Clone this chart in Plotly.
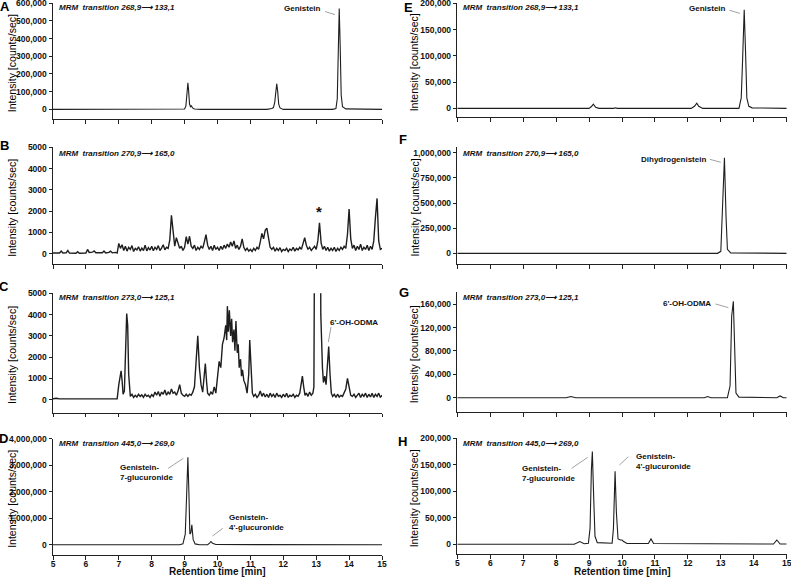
import plotly.graph_objects as go

W, H = 791, 577
FONT = "Liberation Sans, Arial, sans-serif"
LINE = "#1e1e1e"

# ---------------- data (retention time [min], intensity [counts/sec]) ----------------
a_t = [5.0, 8.9, 9.0, 9.04, 9.07, 9.1, 9.12, 9.15, 9.18, 9.21, 9.24, 9.3, 9.5,
       11.5, 11.65, 11.7, 11.74, 11.77, 11.8, 11.83, 11.86, 11.9, 12.0,
       13.5, 13.6, 13.64, 13.67, 13.7, 13.73, 13.76, 13.8, 13.9, 15.0]
a_y = [0, 0, 2000, 20000, 90000, 150000, 110000, 30000, 15000, 20000, 8000, 2000, 0,
       0, 5000, 10000, 40000, 100000, 145000, 100000, 30000, 8000, 0,
       0, 5000, 60000, 300000, 570000, 350000, 80000, 15000, 3000, 0]

b_t = [5.00, 5.20, 5.25, 5.30, 5.40, 5.45, 5.50, 5.70, 5.75, 5.80, 6.00, 6.05, 6.10, 6.20, 6.25,
       6.30, 6.50, 6.55, 6.60, 6.70, 6.75, 6.80, 6.90, 6.95,
       7.00, 7.05, 7.10, 7.15, 7.20, 7.25, 7.30, 7.35, 7.40, 7.45, 7.50, 7.55, 7.60, 7.65, 7.70,
       7.75, 7.80, 7.85, 7.90, 7.95, 8.00, 8.05, 8.10, 8.15, 8.20, 8.25, 8.30, 8.35, 8.40, 8.45,
       8.50, 8.55, 8.60, 8.65, 8.70, 8.75, 8.80, 8.85, 8.90, 8.95, 9.00, 9.05, 9.10, 9.15, 9.20,
       9.25, 9.30, 9.35, 9.40, 9.45, 9.50, 9.55, 9.60, 9.65, 9.70, 9.75, 9.80, 9.85, 9.90, 9.95,
       10.00, 10.05, 10.10, 10.15, 10.20, 10.25, 10.30, 10.35, 10.40, 10.45, 10.50, 10.55, 10.60,
       10.65, 10.70, 10.75, 10.80, 10.85, 10.90, 10.95, 11.00, 11.05, 11.10, 11.15, 11.20, 11.25,
       11.30, 11.35, 11.40, 11.45, 11.50, 11.55, 11.60, 11.65, 11.70, 11.75, 11.80, 11.85, 11.90,
       11.95, 12.00, 12.05, 12.10, 12.15, 12.20, 12.25, 12.30, 12.35, 12.40, 12.45, 12.50, 12.55,
       12.60, 12.65, 12.70, 12.75, 12.80, 12.85, 12.90, 12.95, 13.00, 13.05, 13.10, 13.15, 13.20,
       13.25, 13.30, 13.35, 13.40, 13.45, 13.50, 13.55, 13.60, 13.65, 13.70, 13.75, 13.80, 13.85,
       13.90, 13.95, 14.00, 14.05, 14.10, 14.15, 14.20, 14.25, 14.30, 14.35, 14.40, 14.45, 14.50,
       14.55, 14.60, 14.65, 14.70, 14.75, 14.80, 14.85, 14.90, 14.95, 15.00]
b_y = [30, 30, 120, 30, 40, 150, 30, 20, 90, 20, 30, 200, 60, 70, 130,
       40, 40, 120, 30, 60, 120, 40, 60, 30,
       480, 250, 420, 150, 350, 120, 300, 200, 380, 100, 250, 180, 320, 120, 260,
       150, 400, 130, 280, 170, 350, 140, 300, 200, 380, 150, 260, 420, 180, 300,
       250, 650, 1800, 900, 350, 750, 450, 250, 350, 150, 300, 800, 450, 820, 350,
       250, 400, 150, 300, 200, 350, 250, 550, 900, 400, 200, 350, 150, 400, 200,
       300, 150, 350, 200, 400, 250, 450, 300, 550, 350, 600, 250, 400,
       200, 350, 700, 300, 150, 250, 120, 200, 100, 250, 150, 300, 200,
       550, 950, 700, 1100, 1200, 650, 300, 200, 300, 120, 250, 150, 280,
       100, 200, 150, 250, 100, 220, 150, 300, 120, 250, 180, 300, 200,
       450, 750, 400, 200, 300, 150, 250, 350, 200, 600, 1450, 500, 200,
       350, 150, 300, 120, 250, 150, 300, 100, 250, 150, 300, 200, 350,
       250, 900, 2100, 700, 250, 400, 150, 350, 200, 450, 150, 300, 200,
       400, 150, 350, 200, 600, 1700, 2600, 600, 200, 250]

c_t = [5.00, 5.10, 5.20, 5.30, 5.50, 5.70, 5.75, 5.80, 6.00, 6.05, 6.20, 6.30, 6.40, 6.50, 6.60,
       6.70, 6.80, 6.95,
       7.00, 7.03, 7.07, 7.10, 7.13, 7.17, 7.20, 7.24, 7.27, 7.30, 7.35, 7.40, 7.45, 7.50, 7.55,
       7.60, 7.65, 7.70, 7.75, 7.80, 7.85, 7.90, 7.95, 8.00, 8.05, 8.10, 8.15, 8.20, 8.25, 8.30,
       8.35, 8.40, 8.45, 8.50, 8.55, 8.60, 8.65, 8.70, 8.75, 8.80, 8.85, 8.90, 8.95, 9.00, 9.05,
       9.10, 9.15, 9.20, 9.25, 9.30, 9.35, 9.40, 9.45, 9.50, 9.55, 9.60, 9.63, 9.67, 9.70, 9.75,
       9.80, 9.85, 9.90, 9.95, 10.00, 10.05, 10.10, 10.15, 10.20, 10.25, 10.28, 10.30, 10.33,
       10.36, 10.40, 10.43, 10.46, 10.50, 10.53, 10.56, 10.60, 10.63, 10.66, 10.70, 10.73, 10.76,
       10.80, 10.85, 10.90, 10.95, 10.98, 11.02, 11.06, 11.10, 11.15, 11.20, 11.25, 11.30, 11.35,
       11.40, 11.45, 11.50, 11.55, 11.60, 11.65, 11.70, 11.75, 11.80, 11.85, 11.90, 11.95, 12.00,
       12.05, 12.10, 12.15, 12.20, 12.25, 12.30, 12.35, 12.40, 12.45, 12.50, 12.55, 12.58, 12.62,
       12.66, 12.70, 12.75, 12.80, 12.85, 12.90, 12.93, 12.95, 13.00, 13.10, 13.14, 13.16, 13.19,
       13.22, 13.26, 13.30, 13.34, 13.38, 13.42, 13.46, 13.50, 13.55, 13.60, 13.65, 13.70, 13.75,
       13.80, 13.85, 13.90, 13.95, 14.00, 14.05, 14.10, 14.15, 14.20, 14.25, 14.30, 14.35, 14.40,
       14.45, 14.50, 14.55, 14.60, 14.65, 14.70, 14.75, 14.80, 14.85, 14.90, 14.95, 15.00]
c_y = [40, 60, 30, 30, 30, 40, 60, 30, 50, 30, 40, 60, 30, 40, 50,
       30, 40, 30,
       700, 1000, 1350, 900, 250, 400, 1800, 4050, 3500, 1200, 150, 250, 100, 200, 120,
       250, 150, 220, 100, 250, 150, 200, 100, 230, 150, 350, 200, 380, 150, 350,
       250, 450, 200, 350, 250, 500, 300, 350, 200, 400, 700, 300, 200, 150, 250,
       150, 250, 200, 350, 600, 1800, 3000, 1500, 700, 350, 1100, 1700, 800, 300, 200,
       350, 250, 600, 300, 1200, 1800, 1500, 2600, 2900, 3500, 2800, 4400, 3200,
       4200, 3000, 3800, 2700, 3300, 2300, 3700, 2200, 2600, 1500, 1900, 1100, 1400,
       900, 700, 300, 1200, 2800, 1500, 300, 150, 250, 100, 200, 400, 150,
       300, 120, 250, 100, 300, 150, 250, 100, 300, 150, 200, 100, 250,
       120, 300, 100, 200, 150, 250, 100, 200, 150, 300, 700, 1100, 600,
       200, 300, 150, 350, 200, 300, 600, 8000, 30000, 20000, 4000, 2400, 1500,
       800, 1100, 700, 1600, 2500, 1200, 300, 150, 250, 100, 250, 120, 200,
       150, 300, 500, 1000, 600, 200, 150, 250, 100, 200, 300, 100, 250,
       150, 300, 100, 250, 120, 300, 100, 250, 150, 300, 100, 200]

d_t = [5.0, 8.85, 8.95, 9.02, 9.06, 9.1, 9.13, 9.16, 9.19, 9.22, 9.26, 9.32, 9.45,
       9.7, 9.76, 9.8, 9.85, 9.95, 15.0]
d_y = [0, 0, 30000, 400000, 1800000, 3300000, 2000000, 400000, 450000, 750000, 200000, 30000, 0,
       0, 60000, 120000, 50000, 5000, 0]

e_t = [5.0, 9.0, 9.08, 9.13, 9.2, 9.3, 9.75, 9.8, 9.85, 12.1, 12.2, 12.27, 12.33, 12.45,
       13.55, 13.62, 13.66, 13.71, 13.75, 13.79, 13.85, 13.95, 15.0]
e_y = [0, 0, 4000, 8000, 2000, 0, 0, 1000, 0, 0, 4000, 10000, 4000, 0,
       0, 20000, 90000, 188000, 110000, 20000, 4000, 1000, 0]

f_t = [5.0, 12.9, 13.0, 13.05, 13.11, 13.16, 13.2, 13.3, 15.0]
f_y = [0, 0, 20000, 400000, 950000, 350000, 40000, 5000, 0]

g_t = [5.0, 8.3, 8.45, 8.6, 12.5, 12.6, 12.7, 13.2, 13.28, 13.33, 13.38, 13.42, 13.46, 13.55,
       14.7, 14.8, 14.9, 15.0]
g_y = [0, 0, 2000, 0, 0, 2000, 0, 0, 20000, 140000, 165000, 60000, 8000, 1000,
       0, 3000, 0, 0]

h_t = [5.0, 8.55, 8.72, 8.85, 8.98, 9.03, 9.07, 9.1, 9.14, 9.18, 9.25, 9.7, 9.74, 9.79, 9.83,
       9.88, 9.95, 10.0, 10.05, 10.15, 10.8, 10.88, 10.96, 14.6, 14.7, 14.8, 15.0]
h_y = [0, 0, 5000, 1000, 2000, 30000, 140000, 175000, 90000, 15000, 3000, 2000, 30000, 138000,
       60000, 10000, 8000, 8000, 5000, 1500, 1500, 10000, 1500, 500, 8000, 500, 500]

x_ticks = [5, 6, 7, 8, 9, 10, 11, 12, 13, 14, 15]
transitions = {
    "A": "268,9", "B": "270,9", "C": "273,0", "D": "445,0",
    "E": "268,9", "F": "270,9", "G": "273,0", "H": "445,0",
}
products = {
    "A": "133,1", "B": "165,0", "C": "125,1", "D": "269,0",
    "E": "133,1", "F": "165,0", "G": "125,1", "H": "269,0",
}

# ---------------- layout helpers ----------------
def fx(px):
    return px / W

def fy(py):
    return 1 - py / H

COLS = {0: (53, 382), 1: (457.3, 786.7)}

panels = [
    dict(k="A", t=a_t, y=a_y, col=0, top=3, bot=119.3, rng=[-56000, 600500], dt=100000, fmt=",", lw=1.1),
    dict(k="B", t=b_t, y=b_y, col=0, top=147.3, bot=264.3, rng=[-500, 5005], dt=1000, fmt="d", lw=1.4),
    dict(k="C", t=c_t, y=c_y, col=0, top=293.3, bot=412.7, rng=[-620, 5005], dt=1000, fmt="d", lw=1.4),
    dict(k="D", t=d_t, y=d_y, col=0, top=438.7, bot=555, rng=[-390000, 4005000], dt=1000000, fmt=",", lw=1.1),
    dict(k="E", t=e_t, y=e_y, col=1, top=3.3, bot=117.3, rng=[-17000, 200200], dt=50000, fmt=",", lw=1.1),
    dict(k="F", t=f_t, y=f_y, col=1, top=146.7, bot=264.3, rng=[-109000, 1060000], dt=250000, fmt=",", lw=1.1),
    dict(k="G", t=g_t, y=g_y, col=1, top=292.3, bot=412.3, rng=[-25000, 180500], dt=40000, fmt=",", lw=1.1),
    dict(k="H", t=h_t, y=h_y, col=1, top=438.3, bot=554.3, rng=[-19000, 200200], dt=50000, fmt=",", lw=1.1),
]

letter_pos = {"A": (4.5, 6.5), "B": (4, 145), "C": (4, 286), "D": (3.5, 438.5),
              "E": (409, 8), "F": (403.5, 140), "G": (404, 292.5), "H": (402, 441)}
mrm_y = {"A": 7, "B": 154, "C": 297.7, "D": 443.3, "E": 7, "F": 153.3, "G": 297.7, "H": 443.3}

fig = go.Figure()
layout = dict(template="none", width=W, height=H, margin=dict(l=0, r=0, t=0, b=0, pad=0),
              paper_bgcolor="white", plot_bgcolor="white", showlegend=False,
              font=dict(family=FONT, color="#111"))
annotations = []
shapes = []

for i, p in enumerate(panels, start=1):
    xa = "x" if i == 1 else f"x{i}"
    ya = "y" if i == 1 else f"y{i}"
    fig.add_trace(go.Scatter(x=p["t"], y=p["y"], mode="lines", xaxis=xa, yaxis=ya,
                             line=dict(color=LINE, width=p["lw"]), hoverinfo="skip"))
    x0, x1 = COLS[p["col"]]
    bottom = p["k"] in ("D", "H")
    layout["xaxis" if i == 1 else f"xaxis{i}"] = dict(
        domain=[fx(x0), fx(x1)], anchor=ya, range=[5, 15], tickvals=x_ticks, automargin=False,
        showticklabels=bottom, ticks="outside", ticklen=3.5, tickwidth=1, tickcolor="#222",
        showline=True, linecolor="#222", linewidth=1, showgrid=False, zeroline=False,
        ticklabeloverflow="allow", ticklabelstandoff=-3,
        tickfont=dict(family=FONT, size=8.5, color="#111", weight="bold"), fixedrange=True)
    layout["yaxis" if i == 1 else f"yaxis{i}"] = dict(
        domain=[fy(p["bot"]), fy(p["top"])], anchor=xa, range=p["rng"], dtick=p["dt"], tick0=0,
        tickformat=p["fmt"], ticks="outside", ticklen=3.5, tickwidth=1, tickcolor="#222",
        automargin=False, ticklabeloverflow="allow",
        showline=True, linecolor="#222", linewidth=1, showgrid=False, zeroline=False,
        tickfont=dict(family=FONT, size=8.5, color="#111", weight="bold"), fixedrange=True)
    # panel letter
    lx, ly = letter_pos[p["k"]]
    annotations.append(dict(text=f"<b>{p['k']}</b>", x=fx(lx), y=fy(ly), xref="paper", yref="paper",
                            xanchor="center", yanchor="middle", showarrow=False,
                            font=dict(size=13, family=FONT, color="#000")))
    # MRM label
    annotations.append(dict(text=f"<b><i>MRM  transition {transitions[p['k']]}\u27f6 {products[p['k']]}</i></b>",
                            x=fx(x0 + 4), y=fy(mrm_y[p["k"]]), xref="paper", yref="paper",
                            xanchor="left", yanchor="middle", showarrow=False,
                            font=dict(size=8, family=FONT, color="#111")))
    # y title
    annotations.append(dict(text="Intensity [counts/sec]", textangle=-90,
                            x=fx(12 if p["col"] == 0 else 414), y=fy((p["top"] + p["bot"]) / 2 + 2),
                            xref="paper", yref="paper", xanchor="center", yanchor="middle",
                            showarrow=False, font=dict(size=10.5, family=FONT, color="#000")))

for cx in (217, 622):
    annotations.append(dict(text="<b>Retention time [min]</b>", x=fx(cx), y=fy(571.8),
                            xref="paper", yref="paper", xanchor="center", yanchor="middle",
                            showarrow=False, font=dict(size=10, family=FONT, color="#111")))

# peak labels (data coordinates of each panel)
def lab(text, xr, yr, x, y, xanchor="right", align="left"):
    annotations.append(dict(text=text, x=x, y=y, xref=xr, yref=yr, xanchor=xanchor,
                            yanchor="middle", align=align, showarrow=False,
                            font=dict(size=8, family=FONT, color="#111")))

def leader(xr, yr, x0, y0, x1, y1):
    shapes.append(dict(type="line", xref=xr, yref=yr, x0=x0, y0=y0, x1=x1, y1=y1,
                       line=dict(color="#8a8a8a", width=0.8)))

lab("<b>Genistein</b>", "x", "y", 13.21, 572000)
leader("x", "y", 13.27, 552000, 13.57, 535000)

annotations.append(dict(text="<b>*</b>", x=13.08, y=1974, xref="x2", yref="y2", xanchor="center",
                        yanchor="middle", showarrow=False, font=dict(size=15, family=FONT, color="#111")))

lab("<b>6'-OH-ODMA</b>", "x3", "y3", 13.37, 3640, xanchor="left")
leader("x3", "y3", 13.45, 3420, 13.37, 2710)

lab("<b>Genistein-<br>7-glucuronide</b>", "x4", "y4", 6.98, 2743000, xanchor="left")
leader("x4", "y4", 8.50, 2883000, 8.96, 3260000)
lab("<b>Genistein-<br>4'-glucuronide</b>", "x4", "y4", 10.29, 856600, xanchor="left")
leader("x4", "y4", 9.85, 328000, 10.16, 619000)

lab("<b>Genistein</b>", "x5", "y5", 13.22, 191000)
leader("x5", "y5", 13.26, 187000, 13.58, 181000)

lab("<b>Dihydrogenistein</b>", "x6", "y6", 12.61, 937000)
leader("x6", "y6", 12.67, 934000, 13.0, 905000)

lab("<b>6'-OH-ODMA</b>", "x7", "y7", 12.76, 161700)
leader("x7", "y7", 12.84, 160500, 13.23, 154200)

lab("<b>Genistein-<br>7-glucuronide</b>", "x8", "y8", 6.90, 134500, xanchor="left")
leader("x8", "y8", 8.47, 143400, 8.96, 164200)
lab("<b>Genistein-<br>4'-glucuronide</b>", "x8", "y8", 10.36, 156600, xanchor="left")
leader("x8", "y8", 9.92, 149600, 10.19, 165300)

layout["annotations"] = annotations
layout["shapes"] = shapes
fig.update_layout(**layout)
fig.write_html("out.html", config={"displayModeBar": False},
               post_script="document.body.style.margin='0';document.body.style.overflow='hidden';")
